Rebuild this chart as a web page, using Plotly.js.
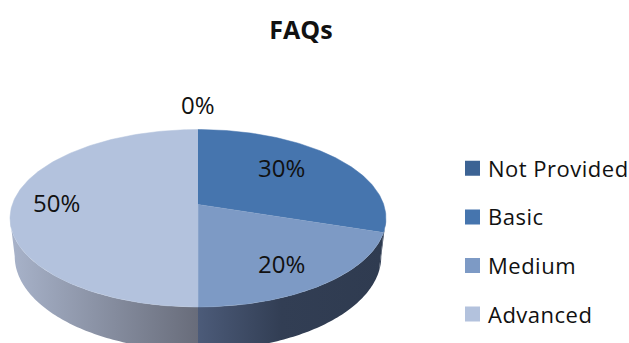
<!DOCTYPE html>
<html>
<head>
<meta charset="utf-8">
<script src="https://cdn.plot.ly/plotly-3.0.1.min.js"></script>
<style>
html, body { margin: 0; padding: 0; background: #fff; }
#chart { width: 629px; height: 343px; }
.legend .legendsymbols { transform: translateX(4.5px); }
.legend .legendtext { letter-spacing: 0.5px; }
</style>
</head>
<body>
<div id="chart"></div>
<script>
// FAQ coverage shares, clockwise from twelve o'clock
const categories = ['Not Provided', 'Basic', 'Medium', 'Advanced'];
const shares = [0, 30, 20, 50];
const topColors = ['#3c6394', '#4675ae', '#7d9ac5', '#b3c2dd'];
const wallScales = [
  [[0, '#2b3a55'], [1, '#2b3a55']],
  [[0, '#2f3c52'], [1, '#2b3a55']],
  [[0, '#4c5b79'], [0.45, '#323e54'], [1, '#2f3b50']],
  [[0, '#a8b3ca'], [1, '#686c7a']]
];
const labelAnchors = [[198, 104], [281, 167.5], [281, 263], [56, 202]];

const FONT = '"Open Sans", sans-serif';

// Tilted disc: the unit circle under a simple perspective projection
const CX = 198, CY = 204.5, R = 185.7, A = 86.6, K = 0.155;
function rim(deg) {
  const t = deg * Math.PI / 180, u = Math.sin(t), v = -Math.cos(t), d = 1 - K * v;
  return [CX + R * u / d, CY + A * v / d];
}
// The lower edge of the disc wall, slightly narrower and lower than the top rim
function lowerRim(deg) {
  const p = rim(deg);
  return [CX + (p[0] - CX) * 0.975, 255 + (p[1] - 217) * 1.06];
}
function arc(fn, from, to) {
  const pts = [], n = Math.max(2, Math.ceil(Math.abs(to - from)));
  for (let i = 0; i <= n; i++) pts.push(fn(from + (to - from) * i / n));
  return pts;
}

const total = shares.reduce((a, b) => a + b, 0);
const walls = [], tops = [], annotations = [];
const WALL_FROM = 98.9, WALL_TO = 261.1;
let start = 0;
categories.forEach((name, i) => {
  const end = start + shares[i] / total * 360;
  annotations.push({
    x: labelAnchors[i][0], y: labelAnchors[i][1], xref: 'x', yref: 'y',
    text: shares[i] + '%', showarrow: false,
    font: { family: FONT, size: 24, color: '#111' }
  });
  if (shares[i] > 0) {
    const a = Math.max(start, WALL_FROM), b = Math.min(end, WALL_TO);
    if (b > a) {
      const upper = arc(rim, a, b), lower = arc(lowerRim, b, a), ring = upper.concat(lower);
      walls.push({
        type: 'scatter', mode: 'none', fill: 'toself',
        x: ring.map(p => p[0]), y: ring.map(p => p[1]),
        fillgradient: { type: 'horizontal', colorscale: wallScales[i] },
        showlegend: false, hoverinfo: 'skip'
      });
    }
    const edge = [[CX, CY]].concat(arc(rim, start, end));
    tops.push({
      type: 'scatter', mode: 'lines', fill: 'toself',
      x: edge.map(p => p[0]), y: edge.map(p => p[1]),
      fillcolor: topColors[i], line: { color: topColors[i], width: 0.5 },
      showlegend: false, hoverinfo: 'skip'
    });
  }
  start = end;
});

// Legend entries carry the swatches; they have no points of their own
const keys = categories.map((name, i) => ({
  type: 'scatter', mode: 'markers', x: [null], y: [null], name: name,
  legendgroup: name,
  marker: { symbol: 'square', size: 15, color: topColors[i] },
  hoverinfo: 'skip'
}));

Plotly.newPlot('chart', walls.concat(tops, keys), {
  width: 629, height: 343,
  margin: { l: 0, r: 0, t: 0, b: 0 },
  paper_bgcolor: '#fff', plot_bgcolor: '#fff',
  title: {
    text: '<b>FAQs</b>', x: 301 / 629, xanchor: 'center', y: 1 - 30 / 343, yanchor: 'middle',
    font: { family: FONT, size: 25, color: '#111' }
  },
  xaxis: { range: [0, 629], visible: false, fixedrange: true },
  yaxis: { range: [343, 0], visible: false, fixedrange: true },
  showlegend: true,
  legend: {
    x: 448 / 629, xanchor: 'left', y: 1 - 147.5 / 343, yanchor: 'top',
    traceorder: 'grouped', tracegroupgap: 17, itemsizing: 'trace',
    font: { family: FONT, size: 22, color: '#111' },
    bgcolor: 'rgba(0,0,0,0)'
  },
  annotations: annotations
}, { staticPlot: true, displayModeBar: false });
</script>
</body>
</html>
